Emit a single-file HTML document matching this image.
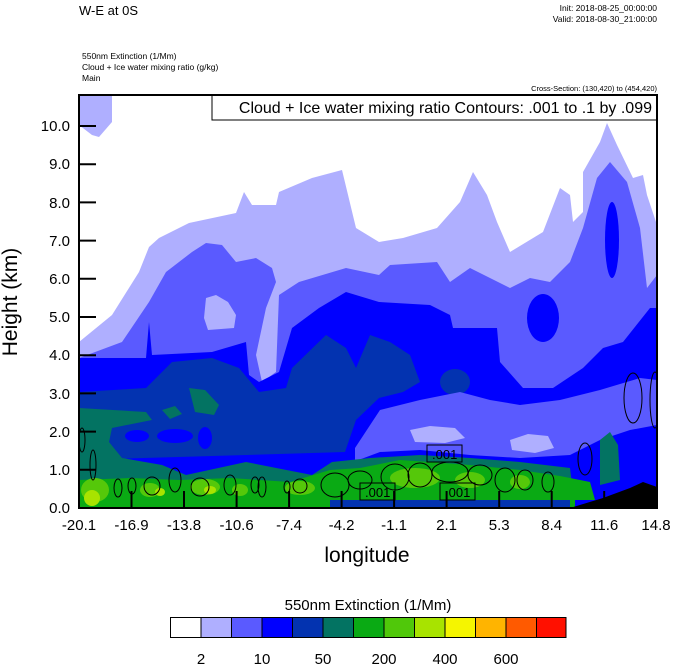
<!DOCTYPE html>
<html><head><meta charset="utf-8"><style>
html,body{margin:0;padding:0;background:#fff;width:674px;height:667px;overflow:hidden}
svg{display:block}
text{font-family:"Liberation Sans",Arial,sans-serif;fill:#000}
</style></head><body>
<svg width="674" height="667" viewBox="0 0 674 667" xmlns="http://www.w3.org/2000/svg">
<defs><clipPath id="pc"><rect x="79" y="95" width="578" height="413"/></clipPath></defs>
<text x="79" y="15" font-size="13">W-E at 0S</text>
<text x="657" y="11" font-size="8.5" text-anchor="end">Init: 2018-08-25_00:00:00</text>
<text x="657" y="22" font-size="8.5" text-anchor="end">Valid: 2018-08-30_21:00:00</text>
<text x="82" y="59" font-size="8.5">550nm Extinction   (1/Mm)</text>
<text x="82" y="70" font-size="8.5">Cloud + Ice water mixing ratio   (g/kg)</text>
<text x="82" y="81" font-size="8.5">Main</text>
<text x="657" y="91" font-size="7.5" text-anchor="end">Cross-Section: (130,420) to (454,420)</text>
<g clip-path="url(#pc)">
<rect x="79" y="95" width="578" height="413" fill="#fff"/>
<polygon fill="#afafff" points="79,95 112,95 112,122 99,137 92,135 79,125"/>
<polygon fill="#afafff" points="79,342 112,315 139,272 149,247 159,238 189,223 236,213 244,192 252,205 276,205 279,192 312,178 342,170 356,228 379,242 403,238 437,228 460,202 473,172 487,195 497,222 510,252 543,232 560,188 570,195 573,222 583,212 583,172 600,142 607,123 617,145 633,178 643,175 647,195 657,225 657,508 79,508"/>
<polygon fill="#5a5aff" points="79,358 122,342 149,302 166,272 192,252 206,243 222,245 236,262 256,258 272,268 276,282 266,308 256,355 262,382 276,372 279,295 299,282 346,268 379,275 390,265 437,262 450,282 470,268 490,278 510,288 530,278 550,282 570,262 583,228 597,178 610,162 627,182 640,228 647,288 657,275 657,508 79,508"/>
<polygon fill="#afafff" points="206,298 216,295 228,302 236,315 234,328 208,330 204,318"/>
<polygon fill="#0000ff" points="79,358 146,358 149,322 152,355 212,352 246,342 249,375 259,382 279,372 292,328 319,308 346,292 379,302 430,305 450,315 453,328 497,328 500,362 523,388 553,388 583,368 603,348 623,342 650,308 657,308 657,508 79,508"/>
<ellipse fill="#0000ff" cx="543" cy="318" rx="16" ry="24"/>
<ellipse fill="#0000ff" cx="612" cy="240" rx="7" ry="38"/>
<polygon fill="#0333b0" points="79,392 146,388 172,362 212,358 239,368 259,392 286,388 292,368 326,335 346,348 356,368 370,335 390,342 410,355 420,382 403,392 379,398 356,420 345,452 79,460"/>
<ellipse fill="#0333b0" cx="455" cy="382" rx="15" ry="13"/>
<ellipse fill="#0000ff" cx="137" cy="436" rx="12" ry="6"/>
<ellipse fill="#0000ff" cx="175" cy="436" rx="18" ry="7"/>
<ellipse fill="#0000ff" cx="205" cy="438" rx="7" ry="11"/>
<polygon fill="#5a5aff" points="355,448 380,410 420,400 460,392 490,400 520,405 560,400 600,390 640,378 657,380 657,508 355,508"/>
<polygon fill="#afafff" points="410,430 430,426 455,428 465,438 445,443 415,442"/>
<polygon fill="#afafff" points="510,440 528,434 548,436 554,448 535,453 512,450"/>
<polygon fill="#0000ff" points="345,465 380,452 420,450 470,455 520,458 570,455 600,440 630,430 657,425 657,508 345,508"/>
<polygon fill="#037362" points="79,408 146,412 152,420 112,428 109,442 122,458 162,465 186,475 246,462 312,475 332,462 370,458 420,455 470,458 520,462 570,468 575,508 79,508"/>
<polygon fill="#037362" points="189,388 205,390 219,405 214,415 195,412"/>
<polygon fill="#037362" points="162,410 175,406 182,414 170,419"/>
<polygon fill="#037362" points="600,440 610,432 618,445 620,480 600,485"/>
<polygon fill="#0aaa14" points="79,480 130,478 180,480 230,478 290,482 330,470 360,468 400,460 430,462 470,465 520,470 560,476 590,482 595,500 79,500"/>
<polygon fill="#0aaa14" points="79,500 575,500 575,508 79,508"/>
<rect x="330" y="500" width="240" height="8" fill="#0333b0"/>
<ellipse fill="#55c80a" cx="95" cy="490" rx="14" ry="12"/>
<ellipse fill="#55c80a" cx="150" cy="490" rx="10" ry="7"/>
<ellipse fill="#55c80a" cx="205" cy="487" rx="15" ry="8"/>
<ellipse fill="#55c80a" cx="240" cy="490" rx="8" ry="6"/>
<ellipse fill="#55c80a" cx="300" cy="488" rx="15" ry="7"/>
<ellipse fill="#55c80a" cx="415" cy="478" rx="25" ry="10"/>
<ellipse fill="#55c80a" cx="470" cy="480" rx="15" ry="8"/>
<ellipse fill="#55c80a" cx="520" cy="482" rx="10" ry="7"/>
<ellipse fill="#a8e300" cx="92" cy="498" rx="8" ry="8"/>
<ellipse fill="#a8e300" cx="160" cy="492" rx="5" ry="4"/>
<ellipse fill="#a8e300" cx="210" cy="490" rx="6" ry="4"/>
<polygon fill="#000" points="570,508 603,498 630,488 643,482 657,487 657,508"/>
<g fill="none" stroke="#000" stroke-width="1">
<ellipse cx="82" cy="440" rx="3" ry="12"/>
<ellipse cx="93" cy="465" rx="3" ry="15"/>
<ellipse cx="118" cy="488" rx="4" ry="9"/>
<ellipse cx="132" cy="486" rx="4" ry="8"/>
<ellipse cx="152" cy="486" rx="8" ry="9"/>
<ellipse cx="175" cy="480" rx="6" ry="12"/>
<ellipse cx="200" cy="487" rx="9" ry="9"/>
<ellipse cx="230" cy="485" rx="6" ry="10"/>
<ellipse cx="255" cy="485" rx="4" ry="8"/>
<ellipse cx="262" cy="487" rx="4" ry="10"/>
<ellipse cx="287" cy="487" rx="3" ry="6"/>
<ellipse cx="300" cy="486" rx="7" ry="7"/>
<ellipse cx="335" cy="485" rx="14" ry="12"/>
<ellipse cx="360" cy="480" rx="12" ry="9"/>
<ellipse cx="395" cy="477" rx="14" ry="13"/>
<ellipse cx="420" cy="475" rx="12" ry="12"/>
<ellipse cx="450" cy="472" rx="18" ry="10"/>
<ellipse cx="480" cy="475" rx="12" ry="10"/>
<ellipse cx="505" cy="480" rx="10" ry="12"/>
<ellipse cx="525" cy="480" rx="8" ry="10"/>
<ellipse cx="548" cy="482" rx="6" ry="10"/>
<ellipse cx="585" cy="459" rx="7" ry="16"/>
<ellipse cx="633" cy="398" rx="9" ry="25"/>
<ellipse cx="655" cy="400" rx="5" ry="28"/>
</g>
<g font-size="13">
<rect x="427" y="445" width="35" height="17" fill="none" stroke="#000"/><text x="432" y="459">.001</text>
<rect x="360" y="483" width="35" height="17" fill="none" stroke="#000"/><text x="365" y="497">.001</text>
<rect x="440" y="483" width="35" height="17" fill="none" stroke="#000"/><text x="445" y="497">.001</text>
</g>
</g>
<rect x="212" y="95" width="445" height="25" fill="#fff" stroke="#000"/>
<text x="652" y="113" font-size="16" text-anchor="end">Cloud + Ice water mixing ratio Contours: .001 to .1 by .099</text>
<rect x="79" y="95" width="578" height="413" fill="none" stroke="#000" stroke-width="2"/>
<g stroke="#000" stroke-width="2">
<line x1="79" y1="508" x2="96" y2="508"/><line x1="79" y1="469.8" x2="96" y2="469.8"/><line x1="79" y1="431.6" x2="96" y2="431.6"/><line x1="79" y1="393.4" x2="96" y2="393.4"/><line x1="79" y1="355.2" x2="96" y2="355.2"/><line x1="79" y1="317" x2="96" y2="317"/><line x1="79" y1="278.8" x2="96" y2="278.8"/><line x1="79" y1="240.6" x2="96" y2="240.6"/><line x1="79" y1="202.4" x2="96" y2="202.4"/><line x1="79" y1="164.2" x2="96" y2="164.2"/><line x1="79" y1="126" x2="96" y2="126"/>
<line x1="131.5" y1="508" x2="131.5" y2="491"/><line x1="184" y1="508" x2="184" y2="491"/><line x1="236.6" y1="508" x2="236.6" y2="491"/><line x1="289.1" y1="508" x2="289.1" y2="491"/><line x1="341.6" y1="508" x2="341.6" y2="491"/><line x1="394.1" y1="508" x2="394.1" y2="491"/><line x1="446.6" y1="508" x2="446.6" y2="491"/><line x1="499.2" y1="508" x2="499.2" y2="491"/><line x1="551.7" y1="508" x2="551.7" y2="491"/><line x1="604.2" y1="508" x2="604.2" y2="491"/>
</g>
<g font-size="15" text-anchor="end">
<text x="70" y="513">0.0</text><text x="70" y="475">1.0</text><text x="70" y="437">2.0</text><text x="70" y="399">3.0</text><text x="70" y="360">4.0</text><text x="70" y="322">5.0</text><text x="70" y="284">6.0</text><text x="70" y="246">7.0</text><text x="70" y="208">8.0</text><text x="70" y="169">9.0</text><text x="70" y="131">10.0</text>
</g>
<g font-size="15" text-anchor="middle">
<text x="79" y="530">-20.1</text><text x="131.5" y="530">-16.9</text><text x="184" y="530">-13.8</text><text x="236.6" y="530">-10.6</text><text x="289.1" y="530">-7.4</text><text x="341.6" y="530">-4.2</text><text x="394.1" y="530">-1.1</text><text x="446.6" y="530">2.1</text><text x="499.2" y="530">5.3</text><text x="551.7" y="530">8.4</text><text x="604.2" y="530">11.6</text><text x="656" y="530">14.8</text>
</g>
<text x="367" y="562" font-size="21" text-anchor="middle">longitude</text>
<text transform="translate(17,302) rotate(-90)" font-size="21" text-anchor="middle">Height (km)</text>
<text x="368" y="610" font-size="15" text-anchor="middle">550nm Extinction  (1/Mm)</text>
<g stroke="#000" stroke-width="1">
<rect x="170.5" y="617.5" width="30.5" height="20" fill="#fff"/>
<rect x="201" y="617.5" width="30.5" height="20" fill="#afafff"/>
<rect x="231.5" y="617.5" width="30.5" height="20" fill="#5a5aff"/>
<rect x="262" y="617.5" width="30.5" height="20" fill="#0000ff"/>
<rect x="292.5" y="617.5" width="30.5" height="20" fill="#0333b0"/>
<rect x="323" y="617.5" width="30.5" height="20" fill="#037362"/>
<rect x="353.5" y="617.5" width="30.5" height="20" fill="#0aaa14"/>
<rect x="384" y="617.5" width="30.5" height="20" fill="#50c80a"/>
<rect x="414.5" y="617.5" width="30.5" height="20" fill="#a8e300"/>
<rect x="445" y="617.5" width="30.5" height="20" fill="#f5f500"/>
<rect x="475.5" y="617.5" width="30.5" height="20" fill="#ffb400"/>
<rect x="506" y="617.5" width="30.5" height="20" fill="#ff5a00"/>
<rect x="536.5" y="617.5" width="29.5" height="20" fill="#ff1000"/>
</g>
<g font-size="15" text-anchor="middle">
<text x="201" y="664">2</text><text x="262" y="664">10</text><text x="323" y="664">50</text><text x="384" y="664">200</text><text x="445" y="664">400</text><text x="506" y="664">600</text>
</g>
</svg>
</body></html>
